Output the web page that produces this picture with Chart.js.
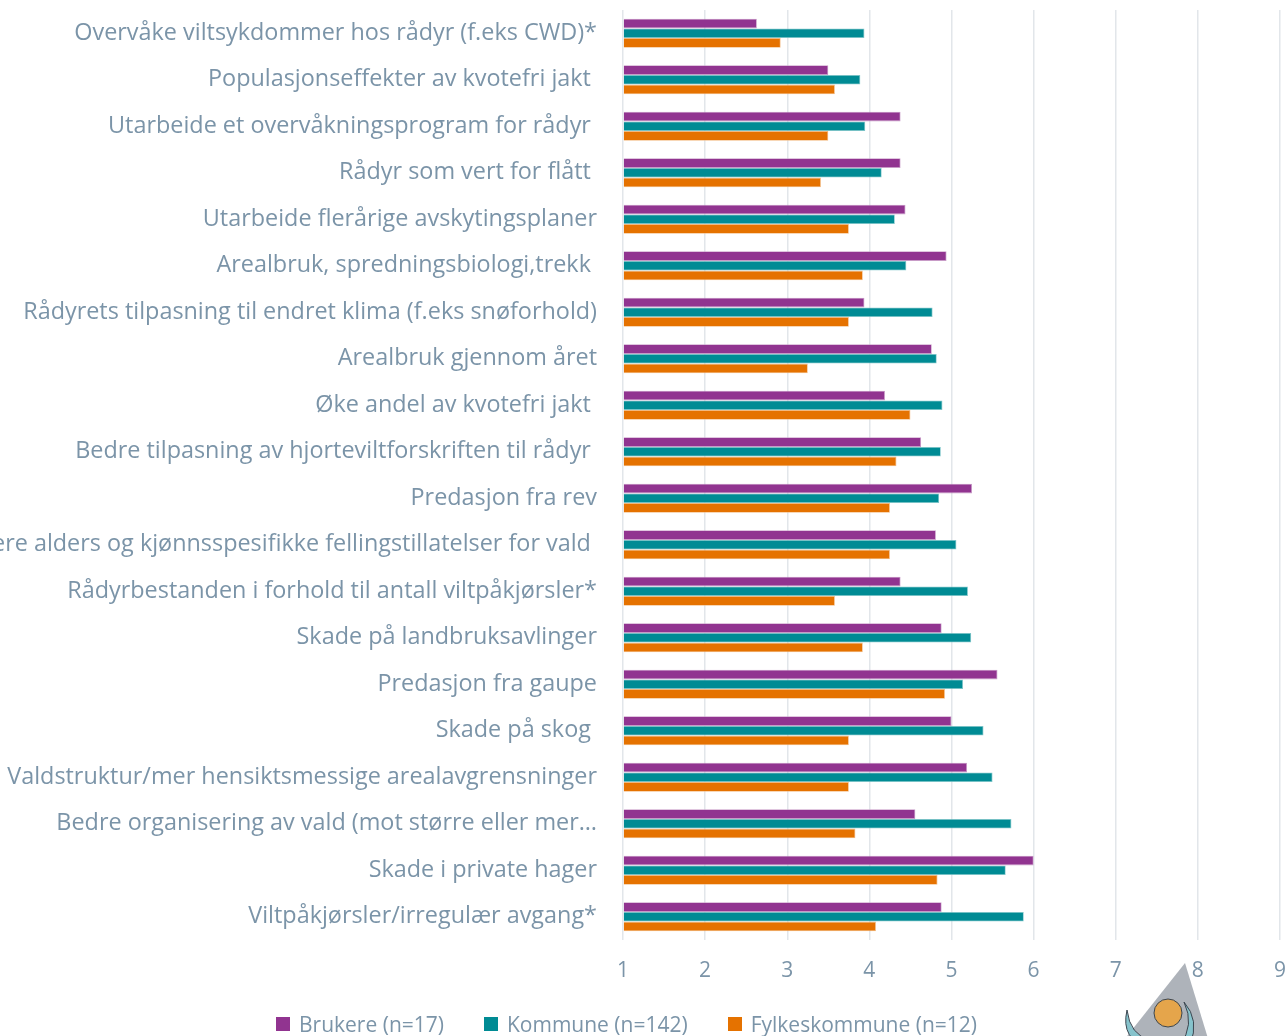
<!DOCTYPE html>
<html>
<head>
<meta charset="utf-8">
<script src="https://cdn.jsdelivr.net/npm/chart.js@4"></script>
<style>
  body { margin: 0; background: #fff; }
  #wrap { position: relative; width: 1288px; height: 1036px; overflow: hidden; }
  #legend { position: absolute; left: 276px; top: 1010px; display: flex; font-family: 'Open Sans', sans-serif; font-size: 21px; color: #7b94a8; white-space: nowrap; }
  #legend span.item { display: flex; align-items: center; margin-right: 40px; }
  #legend i { display: inline-block; width: 14px; height: 14px; margin-right: 9px; }
</style>
</head>
<body>
<div id="wrap">
  <canvas id="myChart" width="1288" height="1036"></canvas>
  <div id="legend"></div>
</div>
<script>
const categories = [
  'Overvåke viltsykdommer hos rådyr (f.eks CWD)*',
  'Populasjonseffekter av kvotefri jakt ',
  'Utarbeide et overvåkningsprogram for rådyr ',
  'Rådyr som vert for flått ',
  'Utarbeide flerårige avskytingsplaner',
  'Arealbruk, spredningsbiologi,trekk ',
  'Rådyrets tilpasning til endret klima (f.eks snøforhold)',
  'Arealbruk gjennom året',
  'Øke andel av kvotefri jakt ',
  'Bedre tilpasning av hjorteviltforskriften til rådyr ',
  'Predasjon fra rev',
  'Flere alders og kjønnsspesifikke fellingstillatelser for vald ',
  'Rådyrbestanden i forhold til antall viltpåkjørsler*',
  'Skade på landbruksavlinger',
  'Predasjon fra gaupe',
  'Skade på skog ',
  'Valdstruktur/mer hensiktsmessige arealavgrensninger',
  'Bedre organisering av vald (mot større eller mer…',
  'Skade i private hager',
  'Viltpåkjørsler/irregulær avgang*'
];
const brukere = [2.63, 3.50, 4.38, 4.38, 4.44, 4.94, 3.94, 4.76, 4.19, 4.63, 5.25, 4.81, 4.38, 4.88, 5.56, 5.00, 5.19, 4.56, 6.00, 4.88];
const kommune = [3.94, 3.89, 3.95, 4.15, 4.31, 4.45, 4.77, 4.82, 4.89, 4.87, 4.85, 5.06, 5.20, 5.24, 5.14, 5.39, 5.50, 5.73, 5.66, 5.88];
const fylke = [2.92, 3.58, 3.50, 3.41, 3.75, 3.92, 3.75, 3.25, 4.50, 4.33, 4.25, 4.25, 3.58, 3.92, 4.92, 3.75, 3.75, 3.83, 4.83, 4.08];
const seriesNames = ['Brukere (n=17)', 'Kommune (n=142)', 'Fylkeskommune (n=12)'];
const xTicks = [1, 2, 3, 4, 5, 6, 7, 8, 9];

const colors = ['#913490', '#008b94', '#e57200'];
const edges = ['#c89bc7', '#7fc5c9', '#f2b87f'];
const textColor = '#7b94a8';
const ctx = document.getElementById('myChart');

// small logo in the lower right corner, drawn under the tick labels
const logoPlugin = {
  id: 'logo',
  beforeDraw(chart) {
    const c = chart.ctx;
    c.save();
    c.fillStyle = '#aeb3ba';
    c.beginPath();
    c.moveTo(1185, 963);
    c.lineTo(1120, 1045);
    c.lineTo(1210, 1045);
    c.closePath();
    c.fill();
    c.fillStyle = '#86c3cc';
    c.strokeStyle = '#3c4650';
    c.lineWidth = 1;
    c.beginPath();
    c.moveTo(1127, 1010);
    c.quadraticCurveTo(1120, 1040, 1150, 1048);
    c.lineTo(1150, 1040);
    c.quadraticCurveTo(1130, 1035, 1127, 1010);
    c.fill(); c.stroke();
    c.beginPath();
    c.moveTo(1184, 1002);
    c.quadraticCurveTo(1200, 1020, 1190, 1045);
    c.lineTo(1180, 1045);
    c.quadraticCurveTo(1195, 1025, 1184, 1002);
    c.fill(); c.stroke();
    c.fillStyle = '#e5a54b';
    c.beginPath();
    c.arc(1168, 1013, 14, 0, Math.PI * 2);
    c.fill(); c.stroke();
    c.restore();
  }
};

new Chart(ctx, {
  type: 'bar',
  data: {
    labels: categories,
    datasets: [
      { label: seriesNames[0], data: brukere, backgroundColor: colors[0], borderColor: edges[0], borderWidth: 0.8, base: 1 },
      { label: seriesNames[1], data: kommune, backgroundColor: colors[1], borderColor: edges[1], borderWidth: 0.8, base: 1 },
      { label: seriesNames[2], data: fylke, backgroundColor: colors[2], borderColor: edges[2], borderWidth: 0.8, base: 1 }
    ]
  },
  plugins: [logoPlugin],
  options: {
    indexAxis: 'y',
    responsive: false,
    animation: false,
    layout: { padding: { top: 10, right: 8, left: 0, bottom: 0 } },
    datasets: { bar: { categoryPercentage: 0.625, barPercentage: 1 } },
    plugins: {
      legend: { display: false },
      tooltip: { enabled: false }
    },
    scales: {
      x: {
        min: 1,
        max: 9,
        afterBuildTicks: (axis) => { axis.ticks = xTicks.map(v => ({ value: v })); },
        afterFit: (axis) => {
          axis.height = 96;
          axis.paddingLeft = 0;
          axis.paddingRight = 0;
        },
        grid: { color: '#e2e6ea', lineWidth: 1.5, drawTicks: false },
        border: { display: false },
        ticks: { color: textColor, font: { family: 'Open Sans', size: 21 }, padding: 18, maxRotation: 0 }
      },
      y: {
        afterFit: (axis) => {
          axis.width = 623;
          axis.paddingTop = 0;
          axis.paddingBottom = 0;
        },
        grid: { display: false, drawTicks: false },
        border: { display: false },
        ticks: { color: textColor, font: { family: 'Open Sans', size: 23.4 }, padding: 26, autoSkip: false }
      }
    }
  }
});

const legend = document.getElementById('legend');
seriesNames.forEach((name, i) => {
  const item = document.createElement('span');
  item.className = 'item';
  item.innerHTML = `<i style="background:${colors[i]}"></i>${name}`;
  legend.appendChild(item);
});
</script>
</body>
</html>
